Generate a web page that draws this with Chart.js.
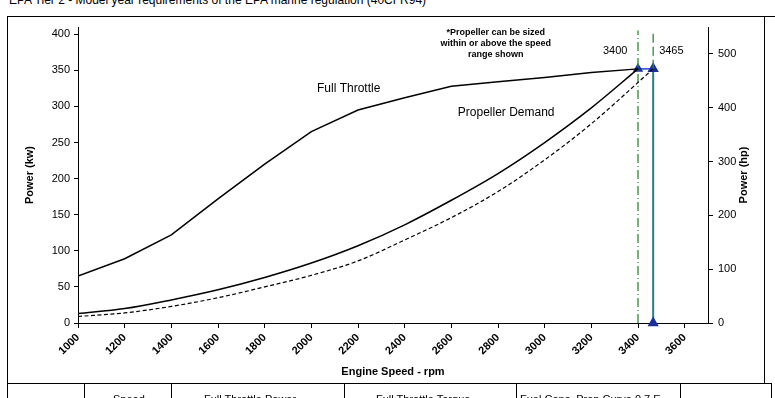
<!DOCTYPE html>
<html>
<head>
<meta charset="utf-8">
<script src="https://cdn.jsdelivr.net/npm/chart.js@4"></script>
<style>
  html, body { margin: 0; padding: 0; background: #fff; overflow: hidden; }
  body { width: 775px; height: 398px; position: relative; font-family: "Liberation Sans", Arial, sans-serif; }
  #wrap { position: absolute; left: 0; top: 0; width: 775px; height: 398px; }
  .hdr { position: absolute; left: 9px; top: -7px; font-size: 12px; color: #000; white-space: nowrap; }
  .topline { position: absolute; left: 7px; top: 16px; width: 768px; height: 1px; background: #000; }
  .frame { position: absolute; left: 7px; top: 16px; width: 758px; height: 368px; border-left: 1px solid #000; border-right: 1px solid #000; box-sizing: border-box; }
  .rowline { position: absolute; left: 7px; top: 383px; width: 764px; height: 1px; background: #000; }
  .cell { position: absolute; top: 383px; height: 20px; border-left: 1px solid #000; font-size: 11px; color: #000; white-space: nowrap; overflow: hidden; }
  .cell span { position: absolute; top: 10px; }
</style>
</head>
<body>
<div class="hdr">EPA Tier 2 - Model year requirements of the EPA marine regulation (40CFR94)</div>
<div class="topline"></div>
<div class="frame"></div>
<div id="wrap"><canvas id="c" width="775" height="398"></canvas></div>
<div class="rowline"></div>
<div class="cell" style="left:7px;width:77px"></div>
<div class="cell" style="left:84px;width:87px"><span style="left:28px">Speed</span></div>
<div class="cell" style="left:171px;width:173px"><span style="left:32px">Full Throttle Power</span></div>
<div class="cell" style="left:344px;width:172px"><span style="left:31px">Full Throttle Torque</span></div>
<div class="cell" style="left:516px;width:164px"><span style="left:3px">Fuel Cons. Prop Curve 0.7 E</span></div>
<div class="cell" style="left:680px;width:90px;border-right:1px solid #000"></div>
<script>
// ---- data ----
const rpm = [1000, 1200, 1400, 1600, 1800, 2000, 2200, 2400, 2600, 2800, 3000, 3200, 3400];
const fullThrottleKw = [65, 89, 122, 172, 220, 265, 295, 312, 328, 334, 340, 347, 352];
const propDemandKw = [13, 20, 32, 46, 63, 83, 107, 136, 170, 207, 250, 298, 352];
const propLimitRpm = [1000, 1200, 1400, 1600, 1800, 2000, 2200, 2400, 2600, 2800, 3000, 3200, 3465];
const propLimitKw = [9, 14, 23, 35, 50, 66, 86, 115, 146, 182, 226, 276, 352];
const markerRpm = [3400, 3465];
const ratedKw = 352;
const markerTopKw = 405;
const xTicks = [1000, 1200, 1400, 1600, 1800, 2000, 2200, 2400, 2600, 2800, 3000, 3200, 3400, 3600];
const kwTicks = [0, 50, 100, 150, 200, 250, 300, 350, 400];
const hpTicks = [0, 100, 200, 300, 400, 500];
const noteLines = ["*Propeller can be sized", "within or above the speed", "range shown"];
const rightTitle = "Power (hp)";

const FONT = '"Liberation Sans", Arial, sans-serif';
const pts = (xs, ys) => xs.map((x, i) => ({ x: x, y: ys[i] }));
const navy = '#1a2f99';

const labelPlugin = {
  id: 'labels',
  afterDatasetsDraw(chart) {
    const { ctx, scales: { x, y, y2 } } = chart;
    ctx.save();
    ctx.fillStyle = '#000';
    ctx.textAlign = 'center';
    ctx.textBaseline = 'middle';
    ctx.font = '12px ' + FONT;
    ctx.fillText('Full Throttle', x.getPixelForValue(2160), y.getPixelForValue(324));
    ctx.fillText('Propeller Demand', x.getPixelForValue(2835), y.getPixelForValue(292));
    ctx.font = 'bold 9px ' + FONT;
    const noteKw = [403, 387, 372];
    noteLines.forEach((t, i) => ctx.fillText(t, x.getPixelForValue(2790), y.getPixelForValue(noteKw[i])));
    ctx.font = '11px ' + FONT;
    ctx.fillText(String(markerRpm[0]), x.getPixelForValue(markerRpm[0] - 98), y.getPixelForValue(377));
    ctx.fillText(String(markerRpm[1]), x.getPixelForValue(markerRpm[1] + 78), y.getPixelForValue(377));
    // right axis title, reading bottom-to-top
    ctx.font = 'bold 11px ' + FONT;
    ctx.translate(y2.right - 31, (y2.top + y2.bottom) / 2);
    ctx.rotate(-Math.PI / 2);
    ctx.fillText(rightTitle, 0, 0);
    ctx.restore();
  }
};

const keepTicks = list => scale => { scale.ticks = list.map(v => ({ value: v })); };

new Chart(document.getElementById('c'), {
  type: 'line',
  data: {
    datasets: [
      { data: pts(rpm, fullThrottleKw), borderColor: '#000', borderWidth: 1.5, pointRadius: 0, tension: 0 },
      { data: pts(rpm, propDemandKw), borderColor: '#000', borderWidth: 1.5, pointRadius: 0, cubicInterpolationMode: 'monotone' },
      { data: pts(propLimitRpm, propLimitKw), borderColor: '#000', borderWidth: 1.2, borderDash: [4, 2.5], pointRadius: 0, cubicInterpolationMode: 'monotone' },
      { data: [{ x: markerRpm[0], y: 0 }, { x: markerRpm[0], y: markerTopKw }], borderColor: '#2e8b2e', borderWidth: 1.3, borderDash: [9, 3, 1, 3], pointRadius: 0 },
      { data: [{ x: markerRpm[1], y: ratedKw }, { x: markerRpm[1], y: markerTopKw }], borderColor: '#2e8b2e', borderWidth: 1.3, borderDash: [9, 4], pointRadius: 0 },
      { data: [{ x: markerRpm[1], y: 0 }, { x: markerRpm[1], y: ratedKw }], borderColor: '#2a7d8a', borderWidth: 2, pointStyle: 'triangle', pointRadius: 4.5, pointBackgroundColor: navy, pointBorderColor: navy, clip: false },
      { data: [{ x: markerRpm[0], y: ratedKw }, { x: markerRpm[1], y: ratedKw }], borderColor: '#2244cc', borderWidth: 1.5, pointStyle: 'triangle', pointRadius: 4.5, pointBackgroundColor: navy, pointBorderColor: navy, clip: false }
    ]
  },
  options: {
    responsive: false,
    animation: false,
    events: [],
    layout: { padding: { top: 27, left: 0, right: 0, bottom: 0 } },
    plugins: { legend: { display: false }, tooltip: { enabled: false } },
    scales: {
      x: {
        type: 'linear', min: 1000, max: 3700,
        afterBuildTicks: keepTicks(xTicks),
        afterFit: s => { s.height = 75; },
        grid: { drawOnChartArea: false, drawTicks: true, tickLength: 5, color: '#000' },
        border: { display: true, color: '#000', width: 1 },
        ticks: { color: '#000', font: { family: FONT, size: 11, weight: 'bold' }, minRotation: 45, maxRotation: 45, padding: 3, autoSkip: false, callback: v => String(v) },
        title: { display: true, text: 'Engine Speed - rpm', color: '#000', font: { family: FONT, size: 11, weight: 'bold' }, padding: { top: 0, bottom: 19 } }
      },
      y: {
        type: 'linear', position: 'left', min: 0, max: 410,
        afterBuildTicks: keepTicks(kwTicks),
        afterFit: s => { s.width = 78; },
        grid: { drawOnChartArea: false, drawTicks: true, tickLength: 4, color: '#000' },
        border: { display: true, color: '#000', width: 1 },
        ticks: { color: '#000', font: { family: FONT, size: 11 }, padding: 4, callback: v => String(v) },
        title: { display: true, text: 'Power (kw)', color: '#000', font: { family: FONT, size: 11, weight: 'bold' }, padding: { top: 23, bottom: 0 } }
      },
      y2: {
        type: 'linear', position: 'right', min: 0, max: 550, display: true,
        afterBuildTicks: keepTicks(hpTicks),
        afterFit: s => { s.width = 67; },
        grid: { drawOnChartArea: false, drawTicks: true, tickLength: 5, color: '#000' },
        border: { display: true, color: '#000', width: 1 },
        ticks: { color: '#000', font: { family: FONT, size: 11 }, padding: 5, callback: v => String(v) },
        title: { display: false }
      }
    }
  },
  plugins: [labelPlugin]
});
</script>
</body>
</html>
